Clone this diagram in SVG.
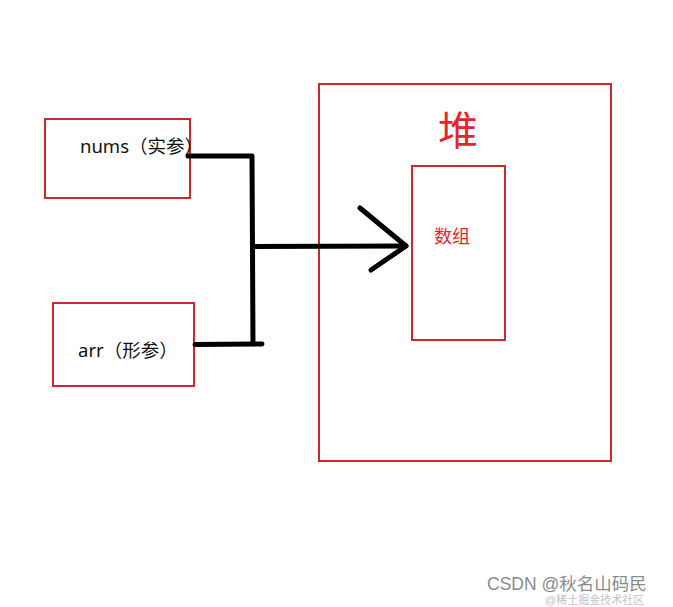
<svg xmlns="http://www.w3.org/2000/svg" width="673" height="607" viewBox="0 0 673 607">
<style>
.box{fill:none;stroke:#d0262c;stroke-width:2}
.lbl{font-family:"Noto Sans","Noto Sans CJK SC",sans-serif;font-size:18.5px;fill:#111}
.red{fill:#e8232a}
.wire{fill:none;stroke:#000;stroke-width:5;stroke-linecap:round;stroke-linejoin:round}
.wm{font-family:"Liberation Sans","Noto Sans CJK SC",sans-serif;font-size:17.5px;fill:#8a8a8a}
</style>
<rect width="673" height="607" fill="#fff"/>
<g id="heap">
<rect class="box" x="319" y="84" width="292" height="377"/>
<text x="458" y="145" text-anchor="middle" class="red" style="font-family:'Noto Sans CJK SC',sans-serif;font-size:40px">堆</text>
</g>
<g id="array">
<rect class="box" x="412" y="166" width="93" height="174"/>
<text x="434" y="243" class="lbl red" style="font-family:'Noto Sans CJK SC',sans-serif;font-size:18px">数组</text>
</g>
<g id="nums">
<rect class="box" x="45" y="119" width="145" height="79"/>
<text x="80" y="153" class="lbl">nums（实参）</text>
</g>
<g id="arr">
<rect class="box" x="53" y="303" width="141" height="83"/>
<text x="78" y="357" class="lbl">arr（形参）</text>
</g>
<g id="connectors">
<polyline class="wire" points="188,156 252,156 253,344"/>
<line class="wire" x1="195" y1="344.5" x2="262" y2="344"/>
<line class="wire" x1="253" y1="246.5" x2="406" y2="246"/>
<polyline class="wire" points="360,208 406,246 371,270"/>
</g>
<g id="watermark">
<text x="487" y="590" class="wm">CSDN @秋名山码民</text>
<text x="545" y="604" class="wm" style="font-size:11px;fill:#b5b5b5;opacity:0.8">@稀土掘金技术社区</text>
</g>
</svg>
